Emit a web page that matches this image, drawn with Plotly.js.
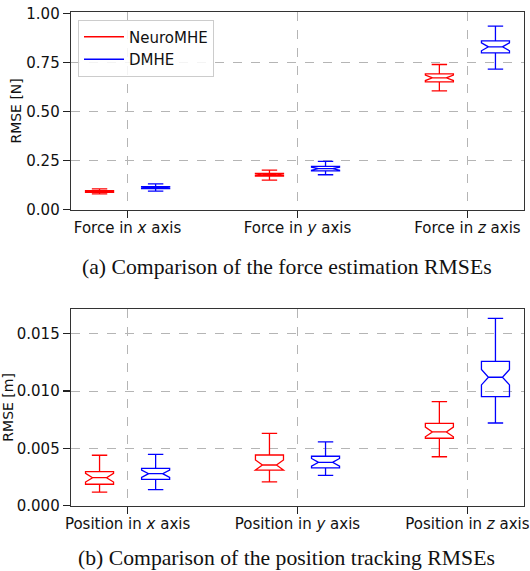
<!DOCTYPE html>
<html>
<head>
<meta charset="utf-8">
<script src="https://cdn.plot.ly/plotly-3.0.1.min.js"></script>
<style>html,body{margin:0;padding:0;background:#fff;}#chart{width:530px;height:571px;}</style>
</head>
<body>
<div id="chart"></div>
<script>
// ---- data ----
const forceCategories = ['Force in <i>x</i> axis', 'Force in <i>y</i> axis', 'Force in <i>z</i> axis'];
const posCategories = ['Position in <i>x</i> axis', 'Position in <i>y</i> axis', 'Position in <i>z</i> axis'];
const seriesNames = ['NeuroMHE', 'DMHE'];

// Force estimation RMSE [N]
const forceNeuroLower  = [0.080, 0.150, 0.605];
const forceNeuroQ1     = [0.088, 0.170, 0.650];
const forceNeuroMedian = [0.092, 0.177, 0.671];
const forceNeuroQ3     = [0.096, 0.184, 0.691];
const forceNeuroUpper  = [0.105, 0.201, 0.739];
const forceNeuroNotch  = [0.0027, 0.0047, 0.0137];

const forceDmheLower   = [0.094, 0.177, 0.715];
const forceDmheQ1      = [0.106, 0.197, 0.798];
const forceDmheMedian  = [0.111, 0.208, 0.829];
const forceDmheQ3      = [0.117, 0.220, 0.859];
const forceDmheUpper   = [0.131, 0.245, 0.935];
const forceDmheNotch   = [0.0037, 0.0077, 0.020];

// Position tracking RMSE [m]
const posNeuroLower  = [0.00119, 0.00207, 0.00427];
const posNeuroQ1     = [0.00187, 0.00311, 0.00588];
const posNeuroMedian = [0.00244, 0.00355, 0.00643];
const posNeuroQ3     = [0.00297, 0.00442, 0.00718];
const posNeuroUpper  = [0.00440, 0.00631, 0.00907];
const posNeuroNotch  = [0.00038, 0.00044, 0.00042];

const posDmheLower   = [0.00140, 0.00265, 0.00721];
const posDmheQ1      = [0.00230, 0.00329, 0.00951];
const posDmheMedian  = [0.00279, 0.00378, 0.01120];
const posDmheQ3      = [0.00326, 0.00431, 0.01259];
const posDmheUpper   = [0.00448, 0.00556, 0.01634];
const posDmheNotch   = [0.00032, 0.00034, 0.00067];

const yTicksForce = [0, 0.25, 0.5, 0.75, 1.0];
const yTickTextForce = ['0.00', '0.25', '0.50', '0.75', '1.00'];
const yTicksPos = [0, 0.005, 0.01, 0.015];
const yTickTextPos = ['0.000', '0.005', '0.010', '0.015'];

// ---- styling ----
const RED = '#ff0000', BLUE = '#0000ff';
const font = 'DejaVu Sans, sans-serif';

function boxTrace(name, color, cats, lo, q1, med, q3, up, notch, xa, ya) {
  return {
    type: 'box', name: name, x: cats,
    lowerfence: lo, q1: q1, median: med, q3: q3, upperfence: up, notchspan: notch,
    notched: true, notchwidth: 0.25, boxpoints: false,
    whiskerwidth: 0.55,
    line: {color: color, width: 1.3},
    fillcolor: 'rgba(0,0,0,0)',
    xaxis: xa, yaxis: ya, showlegend: false, hoverinfo: 'skip',
    offsetgroup: name
  };
}

const traces = [
  boxTrace(seriesNames[0], RED, forceCategories, forceNeuroLower, forceNeuroQ1, forceNeuroMedian, forceNeuroQ3, forceNeuroUpper, forceNeuroNotch, 'x', 'y'),
  boxTrace(seriesNames[1], BLUE, forceCategories, forceDmheLower, forceDmheQ1, forceDmheMedian, forceDmheQ3, forceDmheUpper, forceDmheNotch, 'x', 'y'),
  boxTrace(seriesNames[0], RED, posCategories, posNeuroLower, posNeuroQ1, posNeuroMedian, posNeuroQ3, posNeuroUpper, posNeuroNotch, 'x2', 'y2'),
  boxTrace(seriesNames[1], BLUE, posCategories, posDmheLower, posDmheQ1, posDmheMedian, posDmheQ3, posDmheUpper, posDmheNotch, 'x2', 'y2'),
  // legend-only line entries
  {type: 'scatter', mode: 'lines', name: seriesNames[0], x: [null], y: [null], line: {color: RED, width: 1.3}, xaxis: 'x', yaxis: 'y', showlegend: true},
  {type: 'scatter', mode: 'lines', name: seriesNames[1], x: [null], y: [null], line: {color: BLUE, width: 1.3}, xaxis: 'x', yaxis: 'y', showlegend: true}
];

const W = 530, H = 571;
const xDom = [71 / W, 524 / W];
const yDomTop = [(H - 209.5) / H, (H - 12.3) / H];
const yDomBot = [(H - 505.7) / H, (H - 309) / H];

function xAxis(anchor) {
  return {
    domain: xDom, anchor: anchor, type: 'category', range: [-0.333, 2.333],
    showline: true, mirror: true, linecolor: '#333', linewidth: 1.3,
    ticks: 'outside', ticklen: 7, tickwidth: 1.5, tickcolor: '#222',
    ticklabelstandoff: -3,
    showgrid: true, gridcolor: '#b5b5b5', griddash: 'dash', gridwidth: 1,
    tickfont: {family: font, size: 15, color: '#111'}, zeroline: false, fixedrange: true
  };
}
function yAxis(anchor, dom, range, tv, tt, title) {
  return {
    domain: dom, anchor: anchor, range: range,
    tickvals: tv, ticktext: tt,
    showline: true, mirror: true, linecolor: '#333', linewidth: 1.3,
    ticks: 'outside', ticklen: 7, tickwidth: 1.5, tickcolor: '#222',
    showgrid: true, gridcolor: '#b5b5b5', griddash: 'dash', gridwidth: 1,
    tickfont: {family: font, size: 15, color: '#111'}, zeroline: false,
    title: {text: title, font: {family: font, size: 14, color: '#111'}}
  };
}

const layout = {
  width: W, height: H,
  margin: {l: 0, r: 0, t: 0, b: 0},
  paper_bgcolor: '#fff', plot_bgcolor: '#fff',
  boxmode: 'group', boxgap: 0.34, boxgroupgap: 0.5,
  xaxis: xAxis('y'),
  yaxis: yAxis('x', yDomTop, [0, 1.005], yTicksForce, yTickTextForce, 'RMSE [N]'),
  xaxis2: xAxis('y2'),
  yaxis2: yAxis('x2', yDomBot, [0, 0.01715], yTicksPos, yTickTextPos, 'RMSE [m]'),
  legend: {
    x: 78 / W, y: (H - 19.5) / H, xanchor: 'left', yanchor: 'top',
    bgcolor: 'rgba(255,255,255,0.85)', bordercolor: '#cccccc', borderwidth: 1,
    itemwidth: 40,
    font: {family: font, size: 15, color: '#111'}
  },
  annotations: [
    {text: '(a) Comparison of the force estimation RMSEs', xref: 'paper', yref: 'paper',
     x: 286.5 / W, y: (H - 266.5) / H, xanchor: 'center', yanchor: 'middle', showarrow: false,
     font: {family: 'Liberation Serif, Times New Roman, serif', size: 21.7, color: '#111'}},
    {text: '(b) Comparison of the position tracking RMSEs', xref: 'paper', yref: 'paper',
     x: 286.5 / W, y: (H - 558) / H, xanchor: 'center', yanchor: 'middle', showarrow: false,
     font: {family: 'Liberation Serif, Times New Roman, serif', size: 21.7, color: '#111'}}
  ],
  showlegend: true
};

Plotly.newPlot('chart', traces, layout, {staticPlot: true, displayModeBar: false});
</script>
</body>
</html>
